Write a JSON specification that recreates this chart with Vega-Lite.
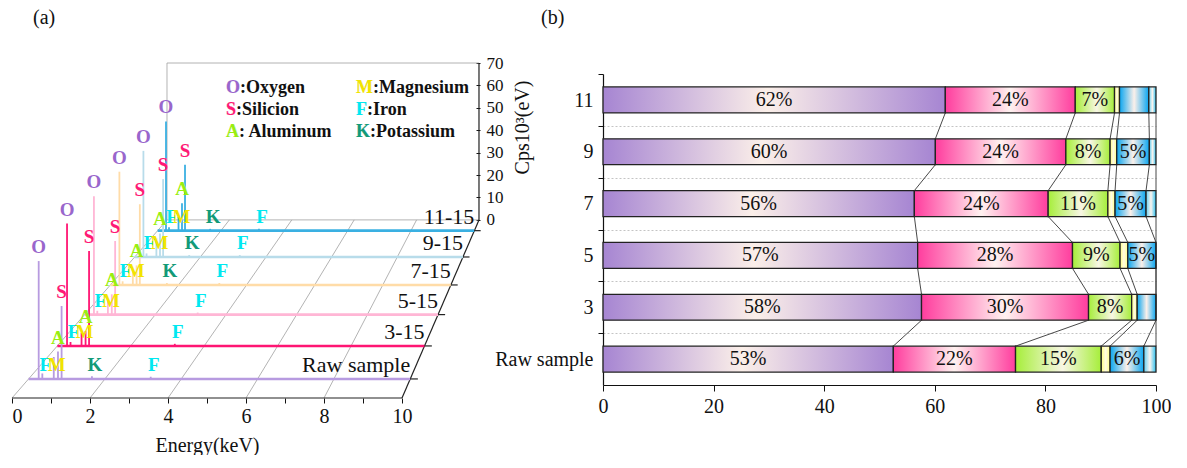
{
  "$schema": "https://vega.github.io/schema/vega-lite/v6.json",
  "background": "white",
  "padding": {"left": 11, "top": 8, "right": 0, "bottom": 0},
  "bounds": "flush",
  "spacing": 123,
  "resolve": {
    "scale": {"color": "independent", "stroke": "independent"}
  },
  "config": {
    "view": {"stroke": null},
    "font": "Liberation Serif",
    "axis": {
      "labelFont": "Liberation Serif", "titleFont": "Liberation Serif",
      "labelColor": "#111", "titleColor": "#111", "domainColor": "#111", "tickColor": "#111",
      "grid": false, "labelFontSize": 20, "titleFontSize": 20, "titleFontWeight": "normal"
    },
    "title": {"font": "Liberation Serif", "fontSize": 20, "fontWeight": "normal", "anchor": "start", "frame": "group", "color": "#111"}
  },
  "datasets": {
    "samples": [
      {"i": 5, "name": "11-15"},
      {"i": 4, "name": "9-15"},
      {"i": 3, "name": "7-15"},
      {"i": 2, "name": "5-15"},
      {"i": 1, "name": "3-15"},
      {"i": 0, "name": "Raw sample"}
    ],
    "peaks": [
      {"i": 5, "el": "O", "e": 0.265, "c": 48},
      {"i": 5, "el": "F", "e": 0.36, "c": 1.5},
      {"i": 5, "el": "M", "e": 0.66, "c": 6},
      {"i": 5, "el": "A", "e": 0.77, "c": 12},
      {"i": 5, "el": "S", "e": 0.865, "c": 29},
      {"i": 5, "el": "K", "e": 1.66, "c": 0.8},
      {"i": 5, "el": "F", "e": 3.2, "c": 0.8},
      {"i": 4, "el": "O", "e": 0.265, "c": 45},
      {"i": 4, "el": "F", "e": 0.36, "c": 1.5},
      {"i": 4, "el": "M", "e": 0.66, "c": 8},
      {"i": 4, "el": "A", "e": 0.77, "c": 10},
      {"i": 4, "el": "S", "e": 0.865, "c": 33},
      {"i": 4, "el": "K", "e": 1.66, "c": 0.8},
      {"i": 4, "el": "F", "e": 3.2, "c": 0.8},
      {"i": 3, "el": "O", "e": 0.265, "c": 46.3},
      {"i": 3, "el": "F", "e": 0.36, "c": 1.5},
      {"i": 3, "el": "M", "e": 0.66, "c": 6},
      {"i": 3, "el": "A", "e": 0.77, "c": 8},
      {"i": 3, "el": "S", "e": 0.865, "c": 33},
      {"i": 3, "el": "K", "e": 1.66, "c": 0.8},
      {"i": 3, "el": "F", "e": 3.2, "c": 0.8},
      {"i": 2, "el": "O", "e": 0.265, "c": 46.6},
      {"i": 2, "el": "F", "e": 0.36, "c": 1.5},
      {"i": 2, "el": "M", "e": 0.66, "c": 6},
      {"i": 2, "el": "A", "e": 0.77, "c": 8},
      {"i": 2, "el": "S", "e": 0.865, "c": 29},
      {"i": 2, "el": "F", "e": 3.2, "c": 0.8},
      {"i": 1, "el": "O", "e": 0.265, "c": 46.4},
      {"i": 1, "el": "F", "e": 0.36, "c": 1.5},
      {"i": 1, "el": "M", "e": 0.66, "c": 5},
      {"i": 1, "el": "A", "e": 0.77, "c": 5.7},
      {"i": 1, "el": "S", "e": 0.865, "c": 36},
      {"i": 1, "el": "F", "e": 3.2, "c": 0.8},
      {"i": 0, "el": "O", "e": 0.265, "c": 43},
      {"i": 0, "el": "F", "e": 0.36, "c": 2},
      {"i": 0, "el": "M", "e": 0.66, "c": 8},
      {"i": 0, "el": "A", "e": 0.77, "c": 10},
      {"i": 0, "el": "S", "e": 0.865, "c": 26.6},
      {"i": 0, "el": "K", "e": 1.66, "c": 1},
      {"i": 0, "el": "F", "e": 3.2, "c": 0.8}
    ],
    "grid": [
      {"e1": 0, "d1": 0, "c1": 0, "e2": 0, "d2": 1, "c2": 0},
      {"e1": 2, "d1": 0, "c1": 0, "e2": 2, "d2": 1, "c2": 0},
      {"e1": 4, "d1": 0, "c1": 0, "e2": 4, "d2": 1, "c2": 0},
      {"e1": 6, "d1": 0, "c1": 0, "e2": 6, "d2": 1, "c2": 0},
      {"e1": 8, "d1": 0, "c1": 0, "e2": 8, "d2": 1, "c2": 0},
      {"e1": 0, "d1": 1, "c1": 0, "e2": 0, "d2": 1, "c2": 70},
      {"e1": 0, "d1": 1, "c1": 70, "e2": 10, "d2": 1, "c2": 70},
      {"e1": 0, "d1": 1, "c1": 0, "e2": 10, "d2": 1, "c2": 0}
    ],
    "frame": [
      {"e1": 0, "d1": 0, "c1": 0, "e2": 10, "d2": 0, "c2": 0},
      {"e1": 10, "d1": 0, "c1": 0, "e2": 10, "d2": 1, "c2": 0},
      {"e1": 10, "d1": 1, "c1": 0, "e2": 10, "d2": 1, "c2": 70}
    ],
    "elements": [
      {"el": "O", "entry": "O:Oxygen"},
      {"el": "S", "entry": "S:Silicion"},
      {"el": "A", "entry": "A: Aluminum"},
      {"el": "M", "entry": "M:Magnesium"},
      {"el": "F", "entry": "F:Iron"},
      {"el": "K", "entry": "K:Potassium"}
    ],
    "comp": [
      {"sample": "Raw sample", "i": 0, "el": "O", "pct": 52.5, "label": "53%"},
      {"sample": "Raw sample", "i": 0, "el": "S", "pct": 22.1, "label": "22%"},
      {"sample": "Raw sample", "i": 0, "el": "A", "pct": 15.5, "label": "15%"},
      {"sample": "Raw sample", "i": 0, "el": "M", "pct": 1.6, "label": ""},
      {"sample": "Raw sample", "i": 0, "el": "F", "pct": 6.1, "label": "6%"},
      {"sample": "Raw sample", "i": 0, "el": "K", "pct": 2.2, "label": ""},
      {"sample": "3", "i": 1, "el": "O", "pct": 57.6, "label": "58%"},
      {"sample": "3", "i": 1, "el": "S", "pct": 30.2, "label": "30%"},
      {"sample": "3", "i": 1, "el": "A", "pct": 7.8, "label": "8%"},
      {"sample": "3", "i": 1, "el": "M", "pct": 1.0, "label": ""},
      {"sample": "3", "i": 1, "el": "F", "pct": 3.4, "label": ""},
      {"sample": "3", "i": 1, "el": "K", "pct": 0, "label": ""},
      {"sample": "5", "i": 2, "el": "O", "pct": 56.9, "label": "57%"},
      {"sample": "5", "i": 2, "el": "S", "pct": 28.0, "label": "28%"},
      {"sample": "5", "i": 2, "el": "A", "pct": 8.6, "label": "9%"},
      {"sample": "5", "i": 2, "el": "M", "pct": 1.4, "label": ""},
      {"sample": "5", "i": 2, "el": "F", "pct": 5.1, "label": "5%"},
      {"sample": "5", "i": 2, "el": "K", "pct": 0, "label": ""},
      {"sample": "7", "i": 3, "el": "O", "pct": 56.3, "label": "56%"},
      {"sample": "7", "i": 3, "el": "S", "pct": 24.2, "label": "24%"},
      {"sample": "7", "i": 3, "el": "A", "pct": 10.8, "label": "11%"},
      {"sample": "7", "i": 3, "el": "M", "pct": 1.3, "label": ""},
      {"sample": "7", "i": 3, "el": "F", "pct": 5.6, "label": "5%"},
      {"sample": "7", "i": 3, "el": "K", "pct": 1.8, "label": ""},
      {"sample": "9", "i": 4, "el": "O", "pct": 60.1, "label": "60%"},
      {"sample": "9", "i": 4, "el": "S", "pct": 23.6, "label": "24%"},
      {"sample": "9", "i": 4, "el": "A", "pct": 8.0, "label": "8%"},
      {"sample": "9", "i": 4, "el": "M", "pct": 1.2, "label": ""},
      {"sample": "9", "i": 4, "el": "F", "pct": 5.9, "label": "5%"},
      {"sample": "9", "i": 4, "el": "K", "pct": 1.2, "label": ""},
      {"sample": "11", "i": 5, "el": "O", "pct": 61.9, "label": "62%"},
      {"sample": "11", "i": 5, "el": "S", "pct": 23.5, "label": "24%"},
      {"sample": "11", "i": 5, "el": "A", "pct": 7.1, "label": "7%"},
      {"sample": "11", "i": 5, "el": "M", "pct": 0.9, "label": ""},
      {"sample": "11", "i": 5, "el": "F", "pct": 5.3, "label": ""},
      {"sample": "11", "i": 5, "el": "K", "pct": 1.3, "label": ""}
    ]
  },
  "hconcat": [
    {
      "width": 468,
      "height": 335,
      "title": {"text": "(a)", "dx": 21, "offset": 26},
      "layer": [
        {
          "data": {"name": "grid"},
          "transform": [
            {"calculate": "3.974*datum.d1 + datum.e1*(1-0.2*datum.d1)", "as": "gu1"},
            {"calculate": "-79.46*(1-datum.d1) + datum.c1*(1.25-0.25*datum.d1)", "as": "gv1"},
            {"calculate": "3.974*datum.d2 + datum.e2*(1-0.2*datum.d2)", "as": "gu2"},
            {"calculate": "-79.46*(1-datum.d2) + datum.c2*(1.25-0.25*datum.d2)", "as": "gv2"}
          ],
          "mark": {"type": "rule", "color": "#a0a0a0", "strokeWidth": 0.8},
          "encoding": {
            "x": {
              "field": "gu1", "type": "quantitative",
              "scale": {"domain": [0, 12], "nice": false, "zero": false},
              "axis": {
                "values": [0, 1, 2, 3, 4, 5, 6, 7, 8, 9, 10],
                "labelExpr": "datum.value % 2 == 0 ? datum.label : ''",
                "domain": false, "tickSize": 5, "labelPadding": 3,
                "title": "Energy(keV)", "titleX": 195, "titlePadding": 9
              }
            },
            "y": {
              "field": "gv1", "type": "quantitative",
              "scale": {"domain": [-79.46, 70], "nice": false, "zero": false},
              "axis": {
                "orient": "right",
                "values": [0, 10, 20, 30, 40, 50, 60, 70],
                "labelOverlap": false,
                "domain": false, "tickSize": -4, "labelPadding": 10, "labelFontSize": 17,
                "title": "Cps10³(eV)", "titleAngle": 270, "titleY": 64, "titlePadding": 29
              }
            },
            "x2": {"field": "gu2"},
            "y2": {"field": "gv2"}
          }
        },
        {
          "data": {"name": "frame"},
          "transform": [
            {"calculate": "3.974*datum.d1 + datum.e1*(1-0.2*datum.d1)", "as": "gu1"},
            {"calculate": "-79.46*(1-datum.d1) + datum.c1*(1.25-0.25*datum.d1)", "as": "gv1"},
            {"calculate": "3.974*datum.d2 + datum.e2*(1-0.2*datum.d2)", "as": "gu2"},
            {"calculate": "-79.46*(1-datum.d2) + datum.c2*(1.25-0.25*datum.d2)", "as": "gv2"}
          ],
          "mark": {"type": "rule", "color": "#222", "strokeWidth": 1.2},
          "encoding": {
            "x": {"field": "gu1", "type": "quantitative"},
            "y": {"field": "gv1", "type": "quantitative"},
            "x2": {"field": "gu2"},
            "y2": {"field": "gv2"}
          }
        },
        {
          "data": {"name": "samples"},
          "transform": [
            {"calculate": "0.107 + 0.19*datum.i - 0.0047*datum.i*datum.i", "as": "d"},
            {"calculate": "3.974*datum.d", "as": "ua"},
            {"calculate": "3.974*datum.d + 10*(1-0.2*datum.d)", "as": "ub"},
            {"calculate": "-79.46*(1-datum.d)", "as": "vb"}
          ],
          "mark": {"type": "rule", "strokeWidth": 2.6},
          "encoding": {
            "x": {"field": "ua", "type": "quantitative"},
            "x2": {"field": "ub"},
            "y": {"field": "vb", "type": "quantitative"},
            "stroke": {
              "field": "i", "type": "ordinal", "legend": null,
              "scale": {"domain": [0, 1, 2, 3, 4, 5], "range": ["#b79be0", "#ff1573", "#ffb6d5", "#ffdca8", "#b8dcea", "#3ab0e2"]}
            }
          }
        },
        {
          "data": {"name": "samples"},
          "transform": [
            {"calculate": "0.107 + 0.19*datum.i - 0.0047*datum.i*datum.i", "as": "d"},
            {"calculate": "3.974*datum.d + 10*(1-0.2*datum.d)", "as": "ub"},
            {"calculate": "3.974*datum.d + 10.2*(1-0.2*datum.d)", "as": "uc"},
            {"calculate": "-79.46*(1-datum.d)", "as": "vb"}
          ],
          "mark": {"type": "rule", "color": "#222", "strokeWidth": 1.2},
          "encoding": {
            "x": {"field": "ub", "type": "quantitative"},
            "x2": {"field": "uc"},
            "y": {"field": "vb", "type": "quantitative"}
          }
        },
        {
          "data": {"name": "peaks"},
          "transform": [
            {"calculate": "0.107 + 0.19*datum.i - 0.0047*datum.i*datum.i", "as": "d"},
            {"calculate": "3.974*datum.d + datum.e*(1-0.2*datum.d)", "as": "up"},
            {"calculate": "-79.46*(1-datum.d)", "as": "vp0"},
            {"calculate": "datum.vp0 + datum.c*(1.25-0.25*datum.d)", "as": "vp1"}
          ],
          "mark": {"type": "rule", "strokeWidth": 1.8},
          "encoding": {
            "x": {"field": "up", "type": "quantitative"},
            "y": {"field": "vp0", "type": "quantitative"},
            "y2": {"field": "vp1"},
            "stroke": {"field": "i", "type": "ordinal", "legend": null}
          }
        },
        {
          "data": {"name": "peaks"},
          "transform": [
            {"filter": "indexof(['O','S','A'], datum.el) >= 0"},
            {"calculate": "0.107 + 0.19*datum.i - 0.0047*datum.i*datum.i", "as": "d"},
            {"calculate": "3.974*datum.d + datum.e*(1-0.2*datum.d)", "as": "up"},
            {"calculate": "-79.46*(1-datum.d)", "as": "vp0"},
            {"calculate": "datum.vp0 + datum.c*(1.25-0.25*datum.d)", "as": "vp1"}
          ],
          "mark": {"type": "text", "fontSize": 19, "fontWeight": "bold", "baseline": "middle", "dy": -14},
          "encoding": {
            "x": {"field": "up", "type": "quantitative"},
            "y": {"field": "vp1", "type": "quantitative"},
            "text": {"field": "el"},
            "color": {
              "field": "el", "type": "nominal", "legend": null,
              "scale": {"domain": ["O", "M", "S", "F", "A", "K"], "range": ["#9966cc", "#f2e400", "#ff1a75", "#00e8f0", "#99ee11", "#129a78"]}
            }
          }
        },
        {
          "data": {"name": "peaks"},
          "transform": [
            {"filter": "indexof(['F','M','K'], datum.el) >= 0"},
            {"calculate": "0.107 + 0.19*datum.i - 0.0047*datum.i*datum.i", "as": "d"},
            {"calculate": "3.974*datum.d + datum.e*(1-0.2*datum.d)", "as": "up"},
            {"calculate": "-79.46*(1-datum.d)", "as": "vp0"}
          ],
          "mark": {"type": "text", "fontSize": 19, "fontWeight": "bold", "baseline": "middle", "dy": -14, "dx": 3},
          "encoding": {
            "x": {"field": "up", "type": "quantitative"},
            "y": {"field": "vp0", "type": "quantitative"},
            "text": {"field": "el"},
            "color": {"field": "el", "type": "nominal", "legend": null}
          }
        },
        {
          "data": {"name": "samples"},
          "transform": [
            {"calculate": "0.107 + 0.19*datum.i - 0.0047*datum.i*datum.i", "as": "d"},
            {"calculate": "3.974*datum.d + 10*(1-0.2*datum.d)", "as": "ub"},
            {"calculate": "-79.46*(1-datum.d)", "as": "vb"}
          ],
          "mark": {"type": "text", "fontSize": 22, "align": "right", "baseline": "bottom", "dy": -2, "color": "#111"},
          "encoding": {
            "x": {"field": "ub", "type": "quantitative"},
            "y": {"field": "vb", "type": "quantitative"},
            "text": {"field": "name"}
          }
        },
        {
          "data": {"name": "elements"},
          "transform": [
            {"calculate": "indexof(['O','S','A','M','F','K'], datum.el)", "as": "k"},
            {"calculate": "3.974 + 0.8*(1.89 + 4.17*floor(datum.k/3))", "as": "lu"},
            {"calculate": "59 - 10*(datum.k % 3)", "as": "lv"}
          ],
          "mark": {"type": "text", "fontSize": 18, "fontWeight": "bold", "align": "left", "baseline": "middle", "color": "#111"},
          "encoding": {
            "x": {"field": "lu", "type": "quantitative"},
            "y": {"field": "lv", "type": "quantitative"},
            "text": {"field": "entry"}
          }
        },
        {
          "data": {"name": "elements"},
          "transform": [
            {"calculate": "indexof(['O','S','A','M','F','K'], datum.el)", "as": "k"},
            {"calculate": "3.974 + 0.8*(1.89 + 4.17*floor(datum.k/3))", "as": "lu"},
            {"calculate": "59 - 10*(datum.k % 3)", "as": "lv"}
          ],
          "mark": {"type": "text", "fontSize": 18, "fontWeight": "bold", "align": "left", "baseline": "middle", "strokeWidth": 0.9},
          "encoding": {
            "x": {"field": "lu", "type": "quantitative"},
            "y": {"field": "lv", "type": "quantitative"},
            "text": {"field": "el"},
            "color": {"field": "el", "type": "nominal", "legend": null},
            "stroke": {"value": "white"}
          }
        },
        {
          "data": {"name": "elements"},
          "transform": [
            {"calculate": "indexof(['O','S','A','M','F','K'], datum.el)", "as": "k"},
            {"calculate": "3.974 + 0.8*(1.89 + 4.17*floor(datum.k/3))", "as": "lu"},
            {"calculate": "59 - 10*(datum.k % 3)", "as": "lv"}
          ],
          "mark": {"type": "text", "fontSize": 18, "fontWeight": "bold", "align": "left", "baseline": "middle"},
          "encoding": {
            "x": {"field": "lu", "type": "quantitative"},
            "y": {"field": "lv", "type": "quantitative"},
            "text": {"field": "el"},
            "color": {"field": "el", "type": "nominal", "legend": null}
          }
        }
      ]
    },
    {
      "width": 553,
      "height": 335,
      "title": {"text": "(b)", "dx": -62, "offset": 35},
      "data": {"name": "comp"},
      "transform": [
        {"calculate": "indexof(['O','S','A','M','F','K'], datum.el)", "as": "ord"},
        {"stack": "pct", "groupby": ["i"], "sort": [{"field": "ord", "order": "ascending"}], "as": ["x0", "x1"]},
        {"calculate": "datum.i - 0.25", "as": "ya"},
        {"calculate": "datum.i + 0.25", "as": "yb"},
        {"calculate": "(datum.x0 + datum.x1) / 2", "as": "xm"}
      ],
      "layer": [
        {
          "transform": [{"filter": "datum.el == 'O'"}],
          "mark": {"type": "rect", "stroke": "#222", "strokeWidth": 1.3,
            "fill": {"gradient": "linear", "x1": 0, "y1": 0, "x2": 1, "y2": 0,
              "stops": [{"offset": 0, "color": "#a685d2"}, {"offset": 0.48, "color": "#fbefe9"}, {"offset": 1, "color": "#a685d2"}]}},
          "encoding": {
            "x": {
              "field": "x0", "type": "quantitative",
              "scale": {"domain": [0, 100], "nice": false, "zero": false},
              "axis": {
                "values": [0, 20, 40, 60, 80, 100],
                "labelOverlap": false, "labelFlush": false,
                "tickSize": 6, "offset": -13, "title": null, "labelPadding": 5, "domainWidth": 1.2
              }
            },
            "x2": {"field": "x1"},
            "y": {
              "field": "ya", "type": "quantitative",
              "scale": {"domain": [-0.5, 5.5], "range": [322, 11], "nice": false, "zero": false},
              "axis": {
                "values": [0.5, 1.5, 2.5, 3.5, 4.5, 5.5],
                "labelExpr": "datum.value < 1 ? 'Raw sample' : '' + (2*datum.value)",
                "labelOverlap": false, "labelFlush": false,
                "labelOffset": 26,
                "tickSize": 5, "labelPadding": 5, "title": null, "domainWidth": 1.2,
                "grid": true, "gridDash": [2, 2], "gridColor": "#c4c4c4",
                "gridOpacity": {"condition": {"test": "datum.value < 5", "value": 1}, "value": 0}
              }
            },
            "y2": {"field": "yb"}
          }
        },
        {
          "transform": [{"filter": "datum.el == 'S'"}],
          "mark": {"type": "rect", "stroke": "#222", "strokeWidth": 1.3,
            "fill": {"gradient": "linear", "x1": 0, "y1": 0, "x2": 1, "y2": 0,
              "stops": [{"offset": 0, "color": "#ff3d9e"}, {"offset": 0.5, "color": "#fff2f0"}, {"offset": 1, "color": "#ff3d9e"}]}},
          "encoding": {
            "x": {"field": "x0", "type": "quantitative"}, "x2": {"field": "x1"},
            "y": {"field": "ya", "type": "quantitative"}, "y2": {"field": "yb"}
          }
        },
        {
          "transform": [{"filter": "datum.el == 'A'"}],
          "mark": {"type": "rect", "stroke": "#222", "strokeWidth": 1.3,
            "fill": {"gradient": "linear", "x1": 0, "y1": 0, "x2": 1, "y2": 0,
              "stops": [{"offset": 0, "color": "#a6ee3a"}, {"offset": 0.55, "color": "#f8f6e4"}, {"offset": 1, "color": "#a6ee3a"}]}},
          "encoding": {
            "x": {"field": "x0", "type": "quantitative"}, "x2": {"field": "x1"},
            "y": {"field": "ya", "type": "quantitative"}, "y2": {"field": "yb"}
          }
        },
        {
          "transform": [{"filter": "datum.el == 'M'"}],
          "mark": {"type": "rect", "stroke": "#222", "strokeWidth": 1.3,
            "fill": {"gradient": "linear", "x1": 0, "y1": 0, "x2": 1, "y2": 0,
              "stops": [{"offset": 0, "color": "#ffff80"}, {"offset": 0.5, "color": "#fffbe4"}, {"offset": 1, "color": "#ffff80"}]}},
          "encoding": {
            "x": {"field": "x0", "type": "quantitative"}, "x2": {"field": "x1"},
            "y": {"field": "ya", "type": "quantitative"}, "y2": {"field": "yb"}
          }
        },
        {
          "transform": [{"filter": "datum.el == 'F'"}],
          "mark": {"type": "rect", "stroke": "#222", "strokeWidth": 1.3,
            "fill": {"gradient": "linear", "x1": 0, "y1": 0, "x2": 1, "y2": 0,
              "stops": [{"offset": 0, "color": "#0aa6f0"}, {"offset": 0.5, "color": "#fbf0ea"}, {"offset": 1, "color": "#0aa6f0"}]}},
          "encoding": {
            "x": {"field": "x0", "type": "quantitative"}, "x2": {"field": "x1"},
            "y": {"field": "ya", "type": "quantitative"}, "y2": {"field": "yb"}
          }
        },
        {
          "transform": [{"filter": "datum.el == 'K'"}],
          "mark": {"type": "rect", "stroke": "#222", "strokeWidth": 1.3,
            "fill": {"gradient": "linear", "x1": 0, "y1": 0, "x2": 1, "y2": 0,
              "stops": [{"offset": 0, "color": "#5fd0f4"}, {"offset": 0.5, "color": "#fcf4ee"}, {"offset": 1, "color": "#28c0f0"}]}},
          "encoding": {
            "x": {"field": "x0", "type": "quantitative"}, "x2": {"field": "x1"},
            "y": {"field": "ya", "type": "quantitative"}, "y2": {"field": "yb"}
          }
        },
        {
          "transform": [
            {"window": [{"op": "lag", "field": "x1", "param": 1, "as": "xb"}], "groupby": ["el"], "sort": [{"field": "i", "order": "ascending"}]},
            {"filter": "datum.xb != null"},
            {"calculate": "datum.i - 0.75", "as": "yc"}
          ],
          "mark": {"type": "rule", "color": "#333", "strokeWidth": 0.9},
          "encoding": {
            "x": {"field": "x1", "type": "quantitative"}, "x2": {"field": "xb"},
            "y": {"field": "ya", "type": "quantitative"}, "y2": {"field": "yc"}
          }
        },
        {
          "transform": [{"filter": "datum.label != ''"}],
          "mark": {"type": "text", "fontSize": 20, "color": "#111", "baseline": "middle"},
          "encoding": {
            "x": {"field": "xm", "type": "quantitative"},
            "y": {"field": "i", "type": "quantitative"},
            "text": {"field": "label"}
          }
        }
      ]
    }
  ]
}
